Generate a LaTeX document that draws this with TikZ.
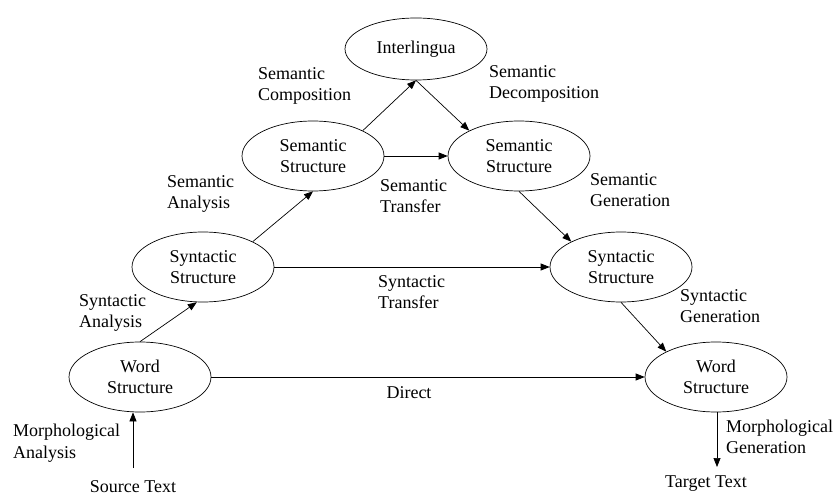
\documentclass[tikz,border=0pt]{standalone}
\usepackage{fontspec}
\setmainfont{Liberation Serif}
\usepackage{tikz}
\usetikzlibrary{shapes.geometric, arrows.meta, positioning}
\tikzstyle{stage} = [ellipse, draw=black, line width=0.7pt, minimum width=142pt, minimum height=70pt, inner sep=1pt, align=center]
\tikzstyle{edgetext} = [inner sep=0pt, align=left, anchor=west]
\tikzstyle{endtext} = [inner sep=0pt, align=center]
\tikzstyle{arrow} = [line width=0.7pt, -{Triangle[length=9pt, width=7pt]}]

\begin{document}
\begin{tikzpicture}[x=1pt, y=-1pt, font=\fontsize{18}{21.5}\selectfont]
\useasboundingbox (0,0) rectangle (835,497);

% Analysis side
\node (word_src) [stage] at (140,377) {Word\\Structure};
\node (syn_src) [stage] at (203,267) {Syntactic\\Structure};
\node (sem_src) [stage] at (313,156) {Semantic\\Structure};

% Top
\node (interlingua) [stage, minimum height=62pt] at (416,49) {Interlingua};

% Generation side
\node (sem_tgt) [stage] at (519,156) {Semantic\\Structure};
\node (syn_tgt) [stage] at (621,267) {Syntactic\\Structure};
\node (word_tgt) [stage] at (716,377) {Word\\Structure};

% Texts
\node (source) [endtext] at (133,487) {Source Text};
\node (target) [endtext] at (706,484) {Target Text};
\coordinate (source_end) at (133,468);
\coordinate (target_end) at (717,467);

% Arrows
\draw [arrow] (source_end) -- (source_end |- word_src.south);
\draw [arrow] (word_src.north) -- (syn_src.260);
\draw [arrow] (syn_src.27) -- (sem_src.south);
\draw [arrow] (sem_src.27) -- (interlingua.south);
\draw [arrow] (interlingua.south) -- (sem_tgt.153);
\draw [arrow] (sem_tgt.south) -- (syn_tgt.153);
\draw [arrow] (syn_tgt.south) -- (word_tgt.153);
\draw [arrow] (word_tgt.south -| target_end) -- (target_end);
\draw [arrow] (sem_src) -- (sem_tgt);
\draw [arrow] (syn_src) -- (syn_tgt);
\draw [arrow] (word_src) -- (word_tgt);

% Step labels
\node (morph_ana) [edgetext] at (13,443) {Morphological\\Analysis};
\node (syn_ana) [edgetext] at (79,313) {Syntactic\\Analysis};
\node (sem_ana) [edgetext] at (167,194) {Semantic\\Analysis};
\node (sem_comp) [edgetext] at (258,86) {Semantic\\Composition};
\node (sem_decomp) [edgetext] at (489,84) {Semantic\\Decomposition};
\node (sem_gen) [edgetext] at (590,190) {Semantic\\Generation};
\node (syn_gen) [edgetext] at (680,306) {Syntactic\\Generation};
\node (morph_gen) [edgetext] at (726,437) {Morphological\\Generation};
\node (sem_trans) [edgetext] at (380,196) {Semantic\\Transfer};
\node (syn_trans) [edgetext] at (378,292) {Syntactic\\Transfer};
\node (direct) [endtext] at (409,393) {Direct};

\end{tikzpicture}
\end{document}
